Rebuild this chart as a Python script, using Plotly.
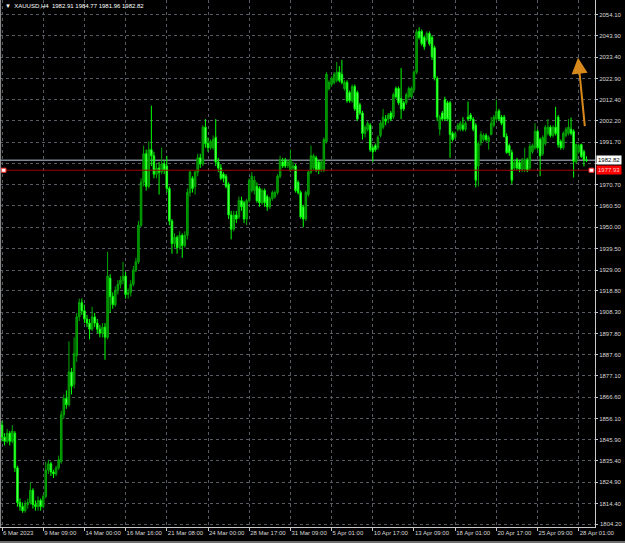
import plotly.graph_objects as go

# ---- data (XAUUSD H4) ----
opens = [
    1853, 1847, 1845, 1849, 1845, 1849, 1832, 1815, 1813, 1811, 1814, 1815, 1821, 1814, 1813, 1816,
    1813, 1818, 1831, 1834, 1830, 1829, 1832, 1835, 1858, 1866, 1863, 1879, 1873, 1887, 1906, 1913,
    1909, 1905, 1903, 1900, 1906, 1903, 1900, 1898, 1901, 1896, 1925, 1916, 1912, 1919, 1922, 1924,
    1926, 1917, 1918, 1922, 1929, 1933, 1951, 1972, 1986, 1970, 1988, 1985, 1976, 1979, 1977, 1981,
    1980, 1969, 1953, 1942, 1945, 1940, 1946, 1941, 1946, 1967, 1974, 1970, 1977, 1984, 1981, 1999,
    1991, 1989, 1989, 1994, 1982, 1979, 1976, 1975, 1971, 1956, 1949, 1956, 1955, 1963, 1962, 1954,
    1963, 1968, 1968, 1970, 1969, 1962, 1968, 1965, 1960, 1964, 1965, 1967, 1975, 1982, 1983, 1980,
    1978, 1979, 1980, 1972, 1967, 1960, 1954, 1966, 1977, 1979, 1984, 1982, 1978, 1978, 1992, 2018,
    2020, 2021, 2022, 2026, 2025, 2018, 2021, 2016, 2012, 2019, 2016, 2010, 2006, 1996, 1998, 2000,
    1989, 1990, 1989, 1995, 1999, 2003, 2003, 2006, 2004, 2018, 2018, 2013, 2011, 2011, 2014, 2014,
    2017.5, 2026, 2046, 2046, 2043, 2042, 2045, 2043, 2038, 2023, 1998, 2006, 2012.5, 2011, 2011, 1996,
    1994, 1998, 1998, 2000, 1998, 2004, 2005, 2003, 2000, 1980, 1991.5, 1993, 1995, 1992, 1995.5, 2000,
    2003, 2007, 2004, 2004, 1994.5, 1990, 1986.6, 1979, 1983, 1981.7, 1978, 1978.5, 1983, 1979, 1987, 1989,
    1997, 1993, 1986, 1991, 1996, 1999, 1995, 1999, 2004, 1992, 1989, 1995, 1996, 1998, 1997, 1982,
    1987, 1990.5, 1987, 1982.91,
]
highs = [
    1855, 1849, 1851, 1850, 1853, 1850, 1833, 1817, 1815, 1816, 1817, 1825, 1822, 1816, 1818, 1817,
    1819, 1835, 1836, 1835, 1831, 1833, 1838, 1860, 1868, 1870, 1894, 1881, 1896, 1908, 1915, 1915,
    1912, 1907, 1905, 1911, 1908, 1905, 1902, 1903, 1903, 1938, 1927, 1918, 1921, 1924, 1926, 1933,
    1928, 1920, 1924, 1931, 1935, 1953, 1974, 1990, 1988, 1992, 2009.6, 1987, 1981, 1982, 1989, 1983,
    1985, 1970, 1954, 1947, 1946, 1948, 1947, 1948, 1969, 1978, 1975, 1978, 1986, 1986, 2000, 2003,
    1994, 1993, 1995, 2003, 1984, 1981, 1977, 1976, 1972, 1958, 1958, 1958, 1965, 1965, 1963, 1964,
    1974, 1977, 1975, 1972, 1970, 1969, 1969, 1966, 1965, 1968, 1968, 1976, 1985, 1984, 1984, 1983,
    1988, 1982, 1981, 1973, 1968, 1961, 1968, 1978, 1990, 1986, 1985, 1983, 1983, 1994, 2026, 2022,
    2024, 2026, 2031, 2029, 2032, 2022, 2022, 2017, 2020, 2020, 2017, 2011, 2007, 2000, 2002, 2001,
    1990, 1991, 1995, 2002, 2008, 2005, 2006, 2007, 2016, 2019, 2019, 2028, 2012, 2016, 2019, 2019,
    2027, 2047, 2048, 2047, 2044, 2046, 2046, 2044, 2039, 2024, 2005, 2007, 2014, 2012, 2012, 1997,
    1997, 2001, 2002, 2004, 2002, 2011.6, 2006, 2004, 2001, 1992, 1997, 1996, 1996, 1995, 2004, 2005,
    2012.5, 2008, 2005, 2005, 1996, 1991, 1988, 1983, 1984, 1983, 1984, 1989, 1984, 1991, 1991, 2001,
    1998, 1994, 1995, 2000, 2003, 2000, 2000, 2009, 2005, 1993, 1997, 1999, 2003, 2003.8, 1998, 1991,
    1991, 1991, 1988, 1984.77,
]
lows = [
    1845, 1843, 1844, 1843, 1844, 1830, 1813, 1811, 1810, 1810, 1812, 1814, 1812, 1811, 1811, 1811,
    1812, 1817, 1829, 1828, 1827, 1828, 1831, 1834, 1856, 1861, 1862, 1868, 1871, 1884, 1904, 1907,
    1903, 1901, 1895, 1899, 1901, 1898, 1896, 1896, 1885, 1895, 1908, 1910, 1911, 1917, 1920, 1922,
    1915, 1915, 1916, 1921, 1928, 1932, 1950, 1970, 1968, 1969, 1980, 1974, 1974, 1966, 1976, 1976,
    1967, 1951, 1937, 1940, 1937, 1939, 1935, 1940, 1944, 1965, 1967, 1966, 1975, 1979, 1980, 1989,
    1987, 1988, 1988, 1980, 1977, 1973, 1972, 1969, 1954, 1944, 1948, 1952, 1954, 1958, 1952, 1951,
    1962, 1967, 1966, 1962, 1960, 1961, 1960, 1958, 1959, 1963, 1964, 1966, 1974, 1979, 1979, 1979,
    1977, 1978, 1967, 1966, 1954, 1950, 1953, 1965, 1976, 1978, 1977, 1976, 1977, 1977, 1991, 2017,
    2019, 2020, 2021, 2021, 2020, 2017, 2011, 2011, 2011, 2007, 2002, 2005, 1993, 1994, 1997, 1987,
    1982, 1987, 1988, 1994, 1998, 2000, 2001, 2002, 2003, 2013, 2010, 2003, 2007, 2010, 2013, 2013,
    2016, 2025, 2042, 2039, 2037, 2041, 2039, 2032, 2022, 2002, 1995, 2002, 2002, 2002, 1984, 1992,
    1993, 1997, 1997, 1997, 1997, 2002, 2002, 1997, 1969.5, 1970, 1990, 1992, 1992, 1988, 1995, 1999,
    2002, 2002, 2000, 1994, 1986, 1985, 1971, 1978, 1978, 1977, 1977, 1977, 1977, 1978, 1986, 1988,
    1988, 1975, 1985, 1990, 1995, 1994, 1994, 1995, 1989, 1988, 1988, 1994, 1995, 1995, 1974.4, 1981,
    1986, 1984, 1979.8, 1981.96,
]
closes = [
    1847, 1845, 1849, 1845, 1850, 1832, 1815, 1813, 1811, 1814, 1815, 1821, 1814, 1813, 1816, 1813,
    1818, 1831, 1834, 1830, 1829, 1832, 1836, 1858, 1866, 1863, 1879, 1872, 1888, 1906, 1913, 1909,
    1905, 1903, 1900, 1906, 1903, 1900, 1898, 1901, 1896, 1926, 1916, 1912, 1919, 1922, 1924, 1926,
    1917, 1918, 1922, 1929, 1933, 1951, 1972, 1986, 1970, 1988, 1985, 1976, 1979, 1977, 1981, 1978,
    1969, 1953, 1942, 1945, 1940, 1946, 1941, 1946, 1967, 1977, 1969, 1977, 1984, 1981, 1999, 1991,
    1989, 1992, 1993, 1982, 1979, 1974, 1974, 1970, 1956, 1949, 1956, 1954, 1963, 1960, 1954, 1963,
    1973, 1975, 1973, 1963, 1962, 1968, 1962, 1960, 1964, 1967, 1967, 1975, 1983, 1980, 1980, 1982,
    1983, 1980, 1968, 1967, 1955, 1954, 1967, 1977, 1985, 1985, 1978, 1978, 1982, 1993, 2025, 2021,
    2023, 2025, 2026, 2022, 2021, 2021, 2012, 2012, 2019, 2008, 2003, 2006, 1996, 1999, 2001, 1988,
    1987, 1988, 1994, 2001, 2004, 2002, 2005, 2003, 2015, 2014, 2011, 2008, 2008, 2015, 2018, 2018,
    2026, 2045.8, 2043, 2040, 2038.5, 2045, 2040, 2033.6, 2023.3, 2004, 2004, 2003, 2003, 2003, 1995.5, 1993,
    1996, 2000, 2001, 1998, 2001, 2003, 2003, 1998, 1973, 1991, 1995.5, 1995, 1993, 1994, 2001, 2004,
    2006.7, 2003, 2001, 1994.5, 1986.6, 1986.6, 1973, 1981.7, 1979, 1978.5, 1983, 1983, 1978, 1989.6, 1990, 1997,
    1989, 1985, 1994, 1999, 1999, 1995, 1999, 1996, 1990.5, 1989, 1996, 1998, 1999, 1996, 1982.3, 1990.5,
    1990, 1984.7, 1983, 1982.82,
]
bar_index = list(range(len(closes)))

time_tick_bars = [0, 16, 32, 48, 64, 80, 96, 112, 128, 144, 160, 176, 192, 208, 224]
time_tick_labels = ["6 Mar 2023", "9 Mar 09:00", "14 Mar 00:00", "16 Mar 16:00", "21 Mar 08:00",
                    "24 Mar 00:00", "28 Mar 17:00", "31 Mar 09:00", "5 Apr 01:00", "10 Apr 17:00",
                    "13 Apr 09:00", "18 Apr 01:00", "20 Apr 17:00", "25 Apr 09:00", "28 Apr 01:00"]
price_ticks = [2054.10, 2043.90, 2033.40, 2022.90, 2012.40, 2002.20, 1991.70, 1981.20, 1970.70,
               1960.50, 1950.00, 1939.50, 1929.00, 1918.80, 1908.30, 1897.80, 1887.60, 1877.10,
               1866.60, 1856.10, 1845.90, 1835.40, 1824.90, 1814.40, 1804.20]
price_tick_labels = ["2054.10", "2043.90", "2033.40", "2022.90", "2012.40", "2002.20", "1991.70", "",
                     "1970.70", "1960.50", "1950.00", "1939.50", "1929.00", "1918.80", "1908.30",
                     "1897.80", "1887.60", "1877.10", "1866.60", "1856.10", "1845.90", "1835.40",
                     "1824.90", "1814.40", ""]
bottom_price_tick = 1804.20
bottom_price_label = "1804.20"
bid_price = 1982.82
level_price = 1977.93
header = "XAUUSD,H4  1982.91 1984.77 1981.96 1982.82"
arrow_from = (226.4, 1998.8)
arrow_to = (223.7, 2033.1)

FONT = "Liberation Sans"
GRID = "#565b63"

fig = go.Figure()
fig.add_trace(go.Candlestick(
    x=bar_index, open=opens, high=highs, low=lows, close=closes,
    increasing=dict(line=dict(color="#00A800", width=1), fillcolor="#007C00"),
    decreasing=dict(line=dict(color="#00FF00", width=1), fillcolor="#8CFF8C"),
    whiskerwidth=0, showlegend=False, hoverinfo="skip",
))

# bid line and level line
fig.add_shape(type="line", xref="paper", x0=0, x1=1, yref="y", y0=bid_price, y1=bid_price,
              line=dict(color="#7d8794", width=1.5), layer="below")
fig.add_shape(type="line", xref="paper", x0=0, x1=1, yref="y", y0=level_price, y1=level_price,
              line=dict(color="#a00000", width=1), layer="above")
# level end markers
for xp in (0.006, 0.994):
    fig.add_shape(type="rect", xref="paper", yref="y", x0=xp - 0.004, x1=xp + 0.004,
                  y0=level_price - 1.0, y1=level_price + 1.0,
                  line=dict(color="#ff3030", width=1), fillcolor="#ffffff")
# left border and bottom window edge
fig.add_shape(type="line", xref="paper", yref="paper", x0=0.001, x1=0.001, y0=0, y1=1,
              line=dict(color="#9a9a9a", width=1))
fig.add_shape(type="line", xref="paper", yref="paper", x0=0, x1=1.06, y0=-0.0285, y1=-0.0285,
              line=dict(color="#6e6e6e", width=2))

# lowest price scale label (sits right on the bottom edge)
fig.add_annotation(xref="paper", x=1.0, xanchor="left", yref="y", y=bottom_price_tick,
                   text=bottom_price_label, showarrow=False, xshift=3, yshift=1,
                   font=dict(family=FONT, size=6, color="#d8d8d8"))

# price labels on the axis
fig.add_annotation(xref="paper", x=1.0, xanchor="left", yref="y", y=bid_price, text="1982.82",
                   showarrow=False, bgcolor="#ffffff", font=dict(family=FONT, size=6, color="#000000"),
                   borderpad=1, xshift=1)
fig.add_annotation(xref="paper", x=1.0, xanchor="left", yref="y", y=level_price, text="1977.93",
                   showarrow=False, bgcolor="#ff0000", font=dict(family=FONT, size=6, color="#ffd0d0"),
                   borderpad=1, xshift=1)

# header text
fig.add_annotation(xref="paper", yref="paper", x=0.0, y=1.0, xanchor="left", yanchor="top",
                   text="▼  " + header, showarrow=False, xshift=3, yshift=-1,
                   font=dict(family=FONT, size=6, color="#ffffff"))

# orange arrow
fig.add_annotation(x=arrow_to[0], y=arrow_to[1], ax=arrow_from[0], ay=arrow_from[1],
                   xref="x", yref="y", axref="x", ayref="y", text="", showarrow=True,
                   arrowhead=2, arrowsize=1.6, arrowwidth=2, arrowcolor="#d7891c")

fig.update_layout(
    width=625, height=543,
    margin=dict(l=0, r=30, t=0, b=16, autoexpand=False),
    paper_bgcolor="#000000", plot_bgcolor="#000000",
    showlegend=False, hovermode=False,
    boxgap=0.15,
    xaxis=dict(
        range=[-0.78, 230.3], tickmode="array", tickvals=time_tick_bars, ticktext=time_tick_labels,
        ticklabelposition="outside right", tickangle=0, ticks="outside", ticklen=3, tickcolor="#c8c8c8",
        tickfont=dict(family=FONT, size=6, color="#d8d8d8"), automargin=False,
        showgrid=True, gridcolor=GRID, griddash="3px,3px", gridwidth=1,
        showline=True, linecolor="#c8c8c8", linewidth=1,
        zeroline=False, rangeslider=dict(visible=False), fixedrange=True,
    ),
    yaxis=dict(
        side="right", range=[1803.0, 2061.4], tickmode="array", tickvals=price_ticks,
        ticktext=price_tick_labels, ticks="outside", ticklen=2, tickcolor="#c8c8c8",
        tickfont=dict(family=FONT, size=6, color="#d8d8d8"), automargin=False,
        ticklabeloverflow="allow",
        showgrid=True, gridcolor=GRID, griddash="3px,3px", gridwidth=1,
        showline=True, linecolor="#c8c8c8", linewidth=1,
        zeroline=False, fixedrange=True,
    ),
)

page_fix = ("document.body.style.margin='0px';document.body.style.padding='0px';"
            "document.body.style.background='#000000';"
            "document.documentElement.style.background='#000000';"
            "document.body.style.overflow='hidden';")
fig.write_html("out.html", post_script=page_fix, config={"displayModeBar": False})
